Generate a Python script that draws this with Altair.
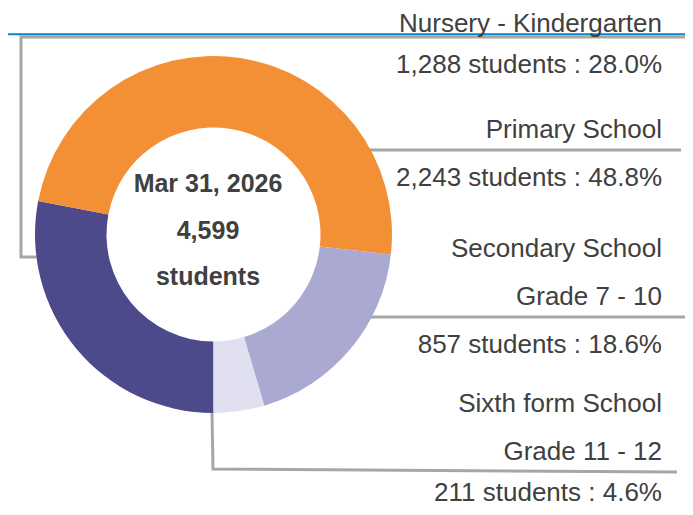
import math
import altair as alt
import pandas as pd

# ---- data ----
categories = ["Nursery - Kindergarten", "Primary School", "Secondary School", "Sixth form School"]
sublabels = ["", "", "Grade 7 - 10", "Grade 11 - 12"]
counts = [1288, 2243, 857, 211]
colors = ["#4D4A8B", "#F38F34", "#AAA9D1", "#E1E0F0"]
date_label = "Mar 31, 2026"

total = sum(counts)

# ---- layout ----
W, H = 677, 499
CX, CY = 205.5, 226.5
R_OUT, R_IN = 178.5, 107
TEXT_X = 654
GROUP_TOP = [17, 130, 249, 404]
STEP = 48
LINE_END = [680, 673, 685, 669]
FS = 26
TEXT_MIN_Y, TEXT_MAX_Y = 0.92 * FS, H - 0.22 * FS
GRAY = "#A6A6A6"
TXT = "#404040"
FONT = "Liberation Sans"

xs = alt.Scale(domain=[0, W], range=[0, W], nice=False, zero=False)
ys = alt.Scale(domain=[0, H], range=[0, H], nice=False, zero=False)

arc_df = pd.DataFrame({
    "category": categories,
    "count": counts,
    "idx": list(range(len(categories))),
})

arc = alt.Chart(arc_df).mark_arc(radius=R_OUT, radius2=R_IN, stroke=None).encode(
    theta=alt.Theta("count:Q", stack=True, scale=alt.Scale(range=[math.pi, 3 * math.pi])),
    color=alt.Color("category:N", scale=alt.Scale(domain=categories, range=colors), legend=None),
    order=alt.Order("idx:Q"),
    x=alt.value(CX),
    y=alt.value(CY),
)

# ---- label text rows ----
rows = []
line_rows = []
for i, cat in enumerate(categories):
    y0 = GROUP_TOP[i]
    names = [cat] + ([sublabels[i]] if sublabels[i] else [])
    for j, nm in enumerate(names):
        rows.append({"text": nm, "x": TEXT_X, "y": min(max(y0 + j * STEP, TEXT_MIN_Y), TEXT_MAX_Y)})
    last = y0 + (len(names) - 1) * STEP
    pct = counts[i] / total * 100
    rows.append({"text": f"{counts[i]:,} students : {pct:.1f}%", "x": TEXT_X,
                 "y": min(max(last + STEP, TEXT_MIN_Y), TEXT_MAX_Y)})
    ly = last + 12
    if i == 0:
        ey = CY + 22.5
        sx = CX - math.sqrt(R_OUT ** 2 - (ey - CY) ** 2)
        pts = [(sx, ey), (13, ey), (13, ly), (LINE_END[i], ly)]
    elif i == len(categories) - 1:
        pts = [(CX - 1.5, CY + R_OUT), (CX - 0.5, ly - 3), (LINE_END[i], ly)]
    else:
        sx = CX + math.sqrt(max(R_OUT ** 2 - (ly - CY) ** 2, 0)) - 2
        pts = [(sx, ly), (LINE_END[i], ly)]
    for k, (px, py) in enumerate(pts):
        line_rows.append({"seg": cat, "ord": k, "x": px, "y": py})

text_df = pd.DataFrame(rows)
line_df = pd.DataFrame(line_rows)

lines = alt.Chart(line_df).mark_line(color=GRAY, strokeWidth=3, strokeJoin="miter").encode(
    x=alt.X("x:Q", scale=xs, axis=None),
    y=alt.Y("y:Q", scale=ys, axis=None),
    detail="seg:N",
    order="ord:Q",
)

blue = alt.Chart(pd.DataFrame({"y": [26.3]})).mark_rule(color="#0A84C6", strokeWidth=2).encode(
    y=alt.Y("y:Q", scale=ys, axis=None),
    x=alt.value(0),
    x2=alt.value(W),
)

labels = alt.Chart(text_df).mark_text(
    align="right", baseline="alphabetic", font=FONT, fontSize=FS, color=TXT
).encode(
    x=alt.X("x:Q", scale=xs, axis=None),
    y=alt.Y("y:Q", scale=ys, axis=None),
    text="text:N",
)

center_df = pd.DataFrame({
    "text": [date_label, f"{total:,}", "students"],
    "x": [200, 200, 200],
    "y": [184, 230.5, 277],
})
center = alt.Chart(center_df).mark_text(
    align="center", baseline="alphabetic", font=FONT, fontSize=25, fontWeight="bold", color=TXT
).encode(
    x=alt.X("x:Q", scale=xs, axis=None),
    y=alt.Y("y:Q", scale=ys, axis=None),
    text="text:N",
)

chart = alt.layer(lines, blue, arc, labels, center).properties(
    width=W, height=H, autosize=alt.AutoSizeParams(type="none"), padding=0
).configure_view(stroke=None)

chart.save("out.html", embed_options={"renderer": "svg", "actions": False})
